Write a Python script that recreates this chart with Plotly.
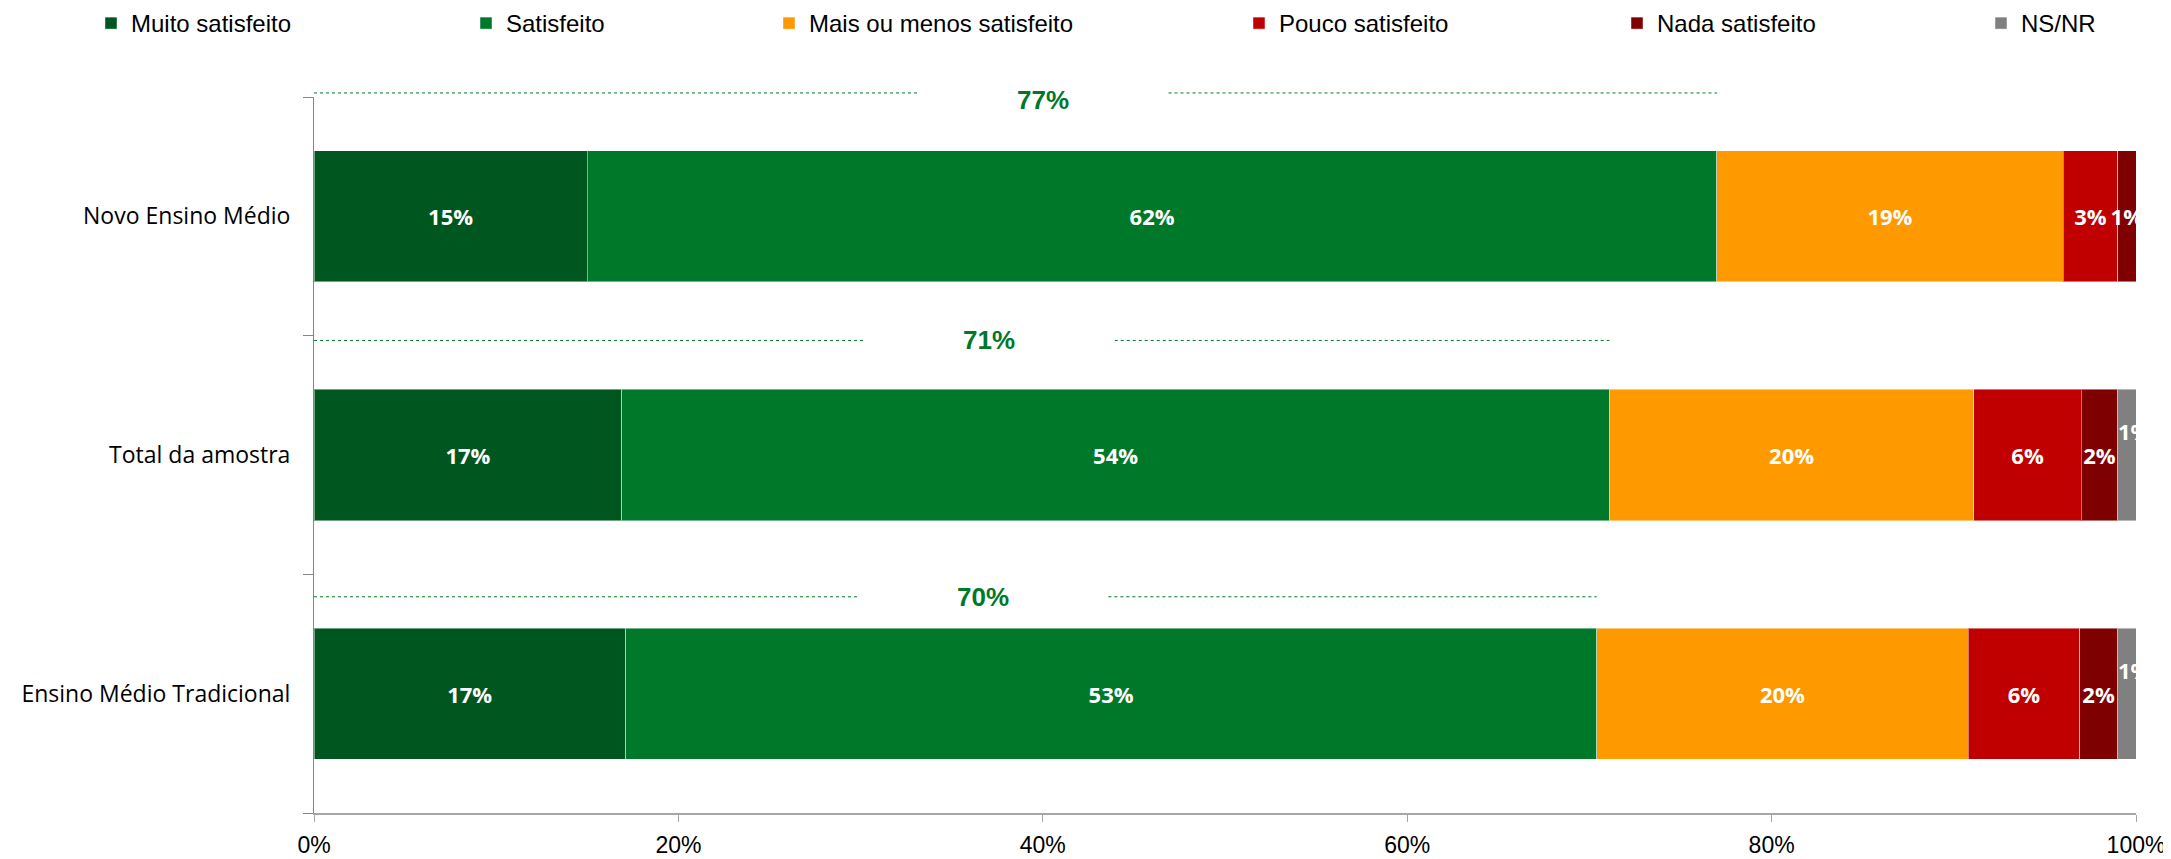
import plotly.graph_objects as go

# rows, bottom to top as plotly draws them
categories = ["Ensino Médio Tradicional", "Total da amostra", "Novo Ensino Médio"]
series_names = ["Muito satisfeito", "Satisfeito", "Mais ou menos satisfeito",
                "Pouco satisfeito", "Nada satisfeito", "NS/NR"]

muito = [17.1, 16.9, 15.0]
satisfeito = [53.3, 54.2, 62.0]
mais_menos = [20.4, 20.0, 19.0]
pouco = [6.1, 5.9, 3.0]
nada = [2.1, 2.0, 1.0]
nsnr = [1.0, 1.0, 0.0]

x_ticks = [0, 20, 40, 60, 80, 100]
x_ticklabels = ["0%", "20%", "40%", "60%", "80%", "100%"]

colors = ["#00561F", "#00782A", "#FF9900", "#C00000", "#7F0000", "#808080"]
series_values = [muito, satisfeito, mais_menos, pouco, nada, nsnr]

# layout helpers; the page body pushes the figure 8px right and down
OFF = 8
W, H = 2171 - OFF, 859 - OFF
ML, MR, MT, MB = 314 - OFF, 35, 97 - OFF, 46
legend_px = [107, 482, 785, 1255, 1633, 1997]
line_offsets = [-0.094, -0.02, 0.017]   # dotted line height relative to row top
label_shift = [0, 0, -7]

label_font = "Open Sans, Noto Sans, sans-serif"
narrow_font = "Liberation Sans Narrow, Liberation Sans, sans-serif"

fig = go.Figure()

for i, (name, vals) in enumerate(zip(series_names, series_values)):
    if name == "NS/NR":
        txt = [""] * len(vals)
    else:
        txt = [f"{v:.0f}%" if v >= 0.5 else "" for v in vals]
    fig.add_trace(go.Bar(
        y=categories, x=vals, name=name, orientation="h",
        marker=dict(color=colors[i], line=dict(color="rgba(255,255,255,0.45)", width=1)),
        text=txt, textposition="inside", insidetextanchor="middle", textangle=0,
        constraintext="none", cliponaxis=True,
        textfont=dict(family=label_font, size=22, color="white", weight="bold"),
        width=0.55, showlegend=True,
        legend="legend" if i == 0 else f"legend{i + 1}",
        hoverinfo="skip",
    ))

# NS/NR labels sit a bit above the middle of the bar
for j, v in enumerate(nsnr):
    if v >= 0.5:
        start = muito[j] + satisfeito[j] + mais_menos[j] + pouco[j] + nada[j]
        fig.add_annotation(x=start + v / 2 + 0.4, y=categories[j], text=f"{v:.0f}%",
                           showarrow=False, yshift=24,
                           font=dict(family=label_font, size=22, color="white", weight="bold"))

# satisfied total (muito + satisfeito) with dotted guide line
for j, cat in enumerate(categories):
    total = muito[j] + satisfeito[j]
    ypos = (j + 1 + line_offsets[j]) / len(categories)
    lab_x = total / 2 + 1.5
    for x0, x1 in [(0, lab_x - 6.9), (lab_x + 6.9, total)]:
        fig.add_shape(type="line", xref="x", yref="paper", x0=x0, x1=x1, y0=ypos, y1=ypos,
                      line=dict(color="#00782A", width=1, dash="dot"))
    fig.add_annotation(x=lab_x, xref="x", y=ypos, yref="paper", text=f"{total:.0f}%",
                       showarrow=False, yanchor="middle", yshift=label_shift[j],
                       font=dict(family=narrow_font, size=26, color="#00782A", weight="bold"))

legends = {}
for i, px_left in enumerate(legend_px):
    key = "legend" if i == 0 else f"legend{i + 1}"
    legends[key] = dict(
        xref="container", x=(px_left - OFF - 16) / W, xanchor="left",
        yref="container", y=1 - (23.5 - OFF) / H, yanchor="middle",
        orientation="h", bgcolor="rgba(0,0,0,0)", borderwidth=0,
        font=dict(family=narrow_font, size=24, color="#000000"),
        itemwidth=30, tracegroupgap=0, visible=True,
    )

fig.update_layout(
    barmode="stack",
    width=W, height=H,
    margin=dict(l=ML, r=MR, t=MT, b=MB, pad=0, autoexpand=False),
    plot_bgcolor="white", paper_bgcolor="white",
    bargap=0.45, showlegend=True,
    **legends,
)

fig.update_xaxes(
    range=[0, 100], tickvals=x_ticks, ticktext=x_ticklabels,
    showgrid=False, zeroline=False,
    showline=True, linecolor="#A6A6A6", linewidth=2,
    ticks="outside", ticklen=7, tickcolor="#A6A6A6", tickwidth=1,
    ticklabelstandoff=3, ticklabeloverflow="allow",
    tickfont=dict(family=narrow_font, size=23, color="#000000"),
)
fig.update_yaxes(
    categoryorder="array", categoryarray=categories,
    range=[-0.5, len(categories) - 0.5],
    tickson="boundaries", ticks="outside", ticklen=10, tickcolor="#868686",
    showline=True, linecolor="#868686", linewidth=1,
    showgrid=False, zeroline=False,
    ticklabelstandoff=18,
    tickfont=dict(family=label_font, size=23, color="#000000"),
)

fig.write_html("out.html")
